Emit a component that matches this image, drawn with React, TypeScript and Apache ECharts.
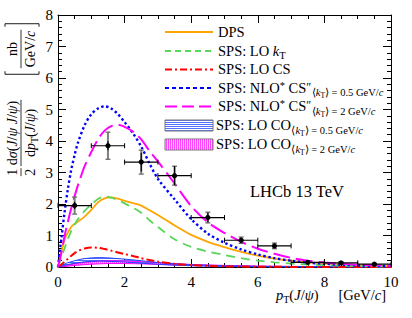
import React, { useEffect, useRef } from "react";
import * as echarts from "echarts";

// ---------- data ----------
const ptGrid = [0, 0.1, 0.2, 0.3, 0.4, 0.5, 0.6, 0.8, 1.0, 1.2, 1.4, 1.6, 1.8, 2.0, 2.25, 2.5, 2.75, 3.0, 3.5, 4.0, 4.5, 5.0, 5.5, 6.0, 6.5, 7.0, 7.5, 8.0, 9.0, 10.0];
const dpsXsec = [0, 0.45, 0.88, 1.1, 1.28, 1.37, 1.44, 1.6, 1.81, 2.05, 2.18, 2.21, 2.17, 2.1, 2.03, 1.95, 1.8, 1.65, 1.32, 1.02, 0.8, 0.63, 0.48, 0.36, 0.27, 0.2, 0.15, 0.11, 0.06, 0.03];
const loKtXsec = [0, 0.3, 0.6, 0.9, 1.15, 1.35, 1.52, 1.78, 1.98, 2.16, 2.24, 2.2, 2.12, 2.02, 1.88, 1.72, 1.48, 1.27, 0.88, 0.64, 0.49, 0.38, 0.28, 0.2, 0.15, 0.11, 0.08, 0.06, 0.03, 0.02];
const loCsXsec = [0, 0.08, 0.17, 0.26, 0.36, 0.44, 0.51, 0.59, 0.62, 0.61, 0.57, 0.52, 0.46, 0.41, 0.35, 0.28, 0.22, 0.17, 0.1, 0.06, 0.035, 0.02, 0.013, 0.008, 0.005, 0.003, 0.002, 0.001, 0, 0];
const nloCs05Xsec = [0, 0.9, 1.76, 2.5, 3.1, 3.56, 3.95, 4.5, 4.85, 5.03, 5.1, 5.03, 4.85, 4.6, 4.25, 3.82, 3.28, 2.8, 2.15, 1.52, 1.06, 0.77, 0.56, 0.4, 0.28, 0.2, 0.14, 0.1, 0.05, 0.03];
const nloCs2Xsec = [0, 0.45, 1.0, 1.45, 1.87, 2.25, 2.6, 3.2, 3.65, 4.05, 4.33, 4.47, 4.52, 4.45, 4.3, 4.05, 3.68, 3.35, 2.65, 1.93, 1.42, 1.08, 0.8, 0.58, 0.42, 0.29, 0.2, 0.14, 0.07, 0.04];

const coGrid = [0, 0.25, 0.5, 0.75, 1, 1.25, 1.5, 2, 2.5, 3, 3.5, 4, 5, 6, 8, 10];
const co05Upper = [0, 0.12, 0.2, 0.26, 0.29, 0.3, 0.29, 0.25, 0.2, 0.14, 0.1, 0.07, 0.04, 0.02, 0.01, 0];
const co05Lower = [0, 0.07, 0.12, 0.16, 0.18, 0.19, 0.18, 0.16, 0.12, 0.09, 0.06, 0.04, 0.02, 0.01, 0.005, 0];
const co2Upper = [0, 0.05, 0.1, 0.14, 0.17, 0.19, 0.2, 0.19, 0.17, 0.14, 0.11, 0.08, 0.05, 0.03, 0.01, 0];
const co2Lower = [0, 0.02, 0.05, 0.07, 0.09, 0.1, 0.11, 0.11, 0.1, 0.08, 0.06, 0.05, 0.03, 0.015, 0.005, 0];

const dataPt = [0.5, 1.5, 2.5, 3.5, 4.5, 5.5, 6.5, 7.5, 8.5, 9.5];
const dataXsec = [1.95, 3.85, 3.33, 2.9, 1.57, 0.85, 0.67, 0.15, 0.13, 0.09];
const dataBinHalf = [0.5, 0.5, 0.5, 0.5, 0.5, 0.5, 0.5, 0.5, 0.5, 0.5];
const dataErrTot = [0.27, 0.43, 0.38, 0.3, 0.17, 0.1, 0.09, 0.05, 0.04, 0.03];
const dataErrStat = [0.12, 0.14, 0.3, 0.3, 0.15, 0.08, 0.07, 0.04, 0.03, 0.03];

const xMin = 0, xMax = 10, xStep = 2;
const yMin = 0, yMax = 8, yStep = 1;

// ---------- text helpers ----------
const FONT = "Liberation Serif";
type Seg = { t: string; s?: number; i?: boolean; dy?: number; gap?: number };
let mctx: CanvasRenderingContext2D | null = null;
function measure(t: string, s: number, it: boolean) {
  if (!mctx) mctx = document.createElement("canvas").getContext("2d");
  mctx!.font = `${it ? "italic " : ""}${s}px "${FONT}"`;
  return mctx!.measureText(t).width;
}
function segW(segs: Seg[], base: number) {
  let w = 0;
  for (const g of segs) { w += g.gap || 0; w += measure(g.t, g.s || base, !!g.i); }
  return w;
}
function runs(segs: Seg[], x0: number, baseline: number, base: number) {
  const out: any[] = [];
  let x = x0;
  for (const g of segs) {
    x += g.gap || 0;
    const s = g.s || base;
    out.push({
      type: "text", x, y: baseline + (g.dy || 0) - 0.34 * s, silent: true,
      style: { text: g.t, fontSize: s, fontFamily: FONT, fontStyle: g.i ? "italic" : "normal", fill: "#000", align: "left", verticalAlign: "middle" },
    });
    x += measure(g.t, s, !!g.i);
  }
  return out;
}

// ---------- legend labels ----------
const LS = 14.5, SS = 10.5;
const subKt = (val: string): Seg[] => [
  { t: "⟨", s: SS, dy: 3.5, gap: 0.5 }, { t: "k", s: SS, i: true, dy: 3.5 }, { t: "T", s: 7.5, dy: 5.5 },
  { t: "⟩ = " + val + " GeV/", s: SS, dy: 3.5 }, { t: "c", s: SS, i: true, dy: 3.5 },
];
const legendLabels: Seg[][] = [
  [{ t: "DPS" }],
  [{ t: "SPS: LO " }, { t: "k", i: true }, { t: "T", s: SS, dy: 3 }],
  [{ t: "SPS: LO CS" }],
  [{ t: "SPS: NLO" }, { t: "*", s: SS, dy: -4 }, { t: " CS" }, { t: "″", s: 12, dy: -2 }, ...subKt("0.5")],
  [{ t: "SPS: NLO" }, { t: "*", s: SS, dy: -4 }, { t: " CS" }, { t: "″", s: 12, dy: -2 }, ...subKt("2")],
  [{ t: "SPS: LO CO" }, ...subKt("0.5")],
  [{ t: "SPS: LO CO" }, ...subKt("2")],
];

function makeHatch(kind: "h" | "v") {
  const c = document.createElement("canvas");
  const g = c.getContext("2d")!;
  if (kind === "h") {
    c.width = 4; c.height = 2;
    g.fillStyle = "#5470ff"; g.fillRect(0, 0, 4, 1);
  } else {
    c.width = 2; c.height = 4;
    g.fillStyle = "rgba(255,190,255,0.7)"; g.fillRect(0, 0, 2, 4);
    g.fillStyle = "#ff44ff"; g.fillRect(0, 0, 1, 4);
  }
  return { image: c, repeat: "repeat" };
}

export default function App() {
  const ref = useRef<HTMLDivElement>(null);
  useEffect(() => {
    const chart = echarts.init(ref.current!, null, { renderer: "svg" });
    const blueHatch = makeHatch("h");
    const pinkHatch = makeHatch("v");
    const pairs = (xs: number[], ys: number[]) => xs.map((x, i) => [x, ys[i]]);
    const curve = (name: string, ys: number[], color: string, width: number, dash: any, z: number) => ({
      type: "line", name, data: pairs(ptGrid, ys), smooth: 0.3, symbol: "none", silent: true, z,
      lineStyle: { color, width, type: dash },
    });
    const band = (name: string, lo: number[], hi: number[], color: string, fill: any) => [
      {
        type: "custom", name: name + "_fill", silent: true, z: 2,
        data: coGrid.map((x, i) => [x, lo[i], hi[i]]),
        renderItem: (p: any, api: any) => {
          if (p.dataIndex !== 0) return null;
          const n = coGrid.length;
          const up: number[][] = [], dn: number[][] = [];
          for (let i = 0; i < n; i++) {
            up.push(api.coord([api.value(0, i), api.value(2, i)]));
            dn.push(api.coord([api.value(0, i), api.value(1, i)]));
          }
          return { type: "polygon", shape: { points: up.concat(dn.reverse()) }, style: { fill, stroke: null } };
        },
      },
      { type: "line", name: name + "_lo", data: pairs(coGrid, lo), smooth: false, symbol: "none", silent: true, z: 2, lineStyle: { color, width: 1 } },
      { type: "line", name: name + "_hi", data: pairs(coGrid, hi), smooth: false, symbol: "none", silent: true, z: 2, lineStyle: { color, width: 1 } },
    ];

    const axisCommon = {
      type: "value", axisLine: { show: true, onZero: false, lineStyle: { color: "#000", width: 1 } },
      axisTick: { show: true, inside: true, length: 8, lineStyle: { color: "#000", width: 1 } },
      minorTick: { show: true, length: 4, lineStyle: { color: "#000", width: 1 } },
      splitLine: { show: false },
    };
    const labelStyle = { color: "#000", fontSize: 15, fontFamily: FONT, hideOverlap: false };

    // ----- graphics: legend, y title, x title, LHCb -----
    const g: any[] = [];
    const legY = [32, 51, 69.5, 88, 106.5, 125.5, 144.5];
    const legLines = [
      { color: "#ffa500", dash: [] as number[] },
      { color: "#5ad65a", dash: [6, 4] },
      { color: "#ff0000", dash: [7, 3, 2, 3] },
      { color: "#0000ff", dash: [4, 3] },
      { color: "#ff00ff", dash: [12, 5] },
    ];
    legLines.forEach((l, k) => {
      g.push({ type: "line", silent: true, shape: { x1: 165, y1: legY[k], x2: 213, y2: legY[k] }, style: { stroke: l.color, lineWidth: 2, lineDash: l.dash.length ? l.dash : null } });
    });
    g.push({ type: "rect", silent: true, shape: { x: 165, y: legY[5] - 5.5, width: 48, height: 11 }, style: { fill: blueHatch, stroke: "#777", lineWidth: 1 } });
    g.push({ type: "rect", silent: true, shape: { x: 165, y: legY[6] - 5.5, width: 48, height: 11 }, style: { fill: pinkHatch, stroke: "#777", lineWidth: 1 } });
    legendLabels.forEach((segs, k) => {
      g.push(...runs(segs, k >= 5 ? 216 : 218, legY[k] + 4.8, LS));
    });

    // LHCb label
    g.push(...runs([{ t: "LHCb 13 TeV" }], 250, 197, 16.5));

    // x-axis title
    const xt1: Seg[] = [{ t: "p", i: true }, { t: "T", s: 10, dy: 3 }, { t: "(" }, { t: "J", i: true }, { t: "/" }, { t: "ψ", i: true }, { t: ")" }];
    const xt2: Seg[] = [{ t: "[GeV/" }, { t: "c", i: true }, { t: "]" }];
    const XS = 14.5;
    const w2 = segW(xt2, XS);
    const w1 = segW(xt1, XS);
    g.push(...runs(xt2, 386 - w2, 300, XS));
    g.push(...runs(xt1, 386 - w2 - 20 - w1, 300, XS));

    // y-axis title (rotated)
    const YS = 14;
    const one: Seg[] = [{ t: "1" }], two: Seg[] = [{ t: "2" }];
    const num: Seg[] = [{ t: "d" }, { t: "σ", i: true }, { t: "(" }, { t: "J", i: true }, { t: "/" }, { t: "ψ", i: true }, { t: " " }, { t: "J", i: true }, { t: "/" }, { t: "ψ", i: true }, { t: ")" }];
    const den: Seg[] = [{ t: "d" }, { t: "p", i: true }, { t: "T", s: 10, dy: 3 }, { t: "(" }, { t: "J", i: true }, { t: "/" }, { t: "ψ", i: true }, { t: ")" }];
    const wa = Math.max(segW(one, YS), segW(two, YS)) + 1;
    const wb = Math.max(segW(num, YS), segW(den, YS)) + 2;
    const gapF = 2;
    const x0 = -(wa + gapF + wb) / 2;
    const xb = x0 + wa + gapF;
    const fracChildren = [
      ...runs(one, x0 + (wa - segW(one, YS)) / 2, -4, YS),
      ...runs(two, x0 + (wa - segW(two, YS)) / 2, 14, YS),
      { type: "line", shape: { x1: x0, y1: 0, x2: x0 + wa, y2: 0 }, style: { stroke: "#000", lineWidth: 0.8 } },
      ...runs(num, xb + (wb - segW(num, YS)) / 2, -4, YS),
      ...runs(den, xb + (wb - segW(den, YS)) / 2, 14, YS),
      { type: "line", shape: { x1: xb, y1: 0, x2: xb + wb, y2: 0 }, style: { stroke: "#000", lineWidth: 0.8 } },
    ];
    g.push({ type: "group", x: 21, y: 138, rotation: Math.PI / 2, silent: true, children: fracChildren });

    const unitNum: Seg[] = [{ t: "nb" }];
    const unitDen: Seg[] = [{ t: "GeV/" }, { t: "c", i: true }];
    const wu = Math.max(segW(unitNum, YS), segW(unitDen, YS)) + 2;
    const hb = wu / 2 + 6;
    const unitChildren = [
      ...runs(unitNum, -segW(unitNum, YS) / 2, -4, YS),
      ...runs(unitDen, -segW(unitDen, YS) / 2, 14, YS),
      { type: "line", shape: { x1: -wu / 2, y1: 0, x2: wu / 2, y2: 0 }, style: { stroke: "#000", lineWidth: 0.8 } },
      { type: "polyline", shape: { points: [[-hb + 3, -16], [-hb, -16], [-hb, 18], [-hb + 3, 18]] }, style: { stroke: "#000", lineWidth: 0.9, fill: null } },
      { type: "polyline", shape: { points: [[hb - 3, -16], [hb, -16], [hb, 18], [hb - 3, 18]] }, style: { stroke: "#000", lineWidth: 0.9, fill: null } },
    ];
    g.push({ type: "group", x: 21, y: 49, rotation: Math.PI / 2, silent: true, children: unitChildren });

    const option: any = {
      animation: false,
      backgroundColor: "#fff",
      textStyle: { fontFamily: FONT },
      grid: { left: 58, right: 21, top: 15, bottom: 51, outerBoundsMode: "none" },
      xAxis: [
        { ...axisCommon, min: xMin, max: xMax, interval: xStep, position: "bottom", minorTick: { ...axisCommon.minorTick, splitNumber: 4 }, axisLabel: { ...labelStyle, margin: 7 } },
        { ...axisCommon, min: xMin, max: xMax, interval: xStep, position: "top", minorTick: { ...axisCommon.minorTick, splitNumber: 4 }, axisLabel: { show: false } },
      ],
      yAxis: [
        { ...axisCommon, min: yMin, max: yMax, interval: yStep, position: "left", minorTick: { ...axisCommon.minorTick, splitNumber: 5 }, axisLabel: { ...labelStyle, margin: 5 } },
        { ...axisCommon, min: yMin, max: yMax, interval: yStep, position: "right", minorTick: { ...axisCommon.minorTick, splitNumber: 5 }, axisLabel: { show: false } },
      ],
      series: [
        ...band("co2", co2Lower, co2Upper, "#ff00ff", pinkHatch),
        ...band("co05", co05Lower, co05Upper, "#2040ff", blueHatch),
        curve("LO CS", loCsXsec, "#ff0000", 2, [8, 3, 2, 3], 3),
        curve("DPS", dpsXsec, "#ffa500", 1.8, "solid", 4),
        curve("LO kT", loKtXsec, "#5ad65a", 1.8, [9, 6], 4),
        curve("NLO CS 0.5", nloCs05Xsec, "#0000ff", 2.4, [2.4, 2.6], 5),
        curve("NLO CS 2", nloCs2Xsec, "#ff00ff", 2, [17, 6], 5),
        {
          type: "custom", name: "LHCb", z: 10, silent: true,
          data: dataPt.map((x, i) => [x, dataXsec[i], dataBinHalf[i], dataErrTot[i], dataErrStat[i]]),
          renderItem: (_p: any, api: any) => {
            const x = api.value(0), y = api.value(1), xe = api.value(2), et = api.value(3), es = api.value(4);
            const c = api.coord([x, y]);
            const l = api.coord([x - xe, y]), r = api.coord([x + xe, y]);
            const tt = api.coord([x, y + et]), tb = api.coord([x, y - et]);
            const st = api.coord([x, y + es]), sb = api.coord([x, y - es]);
            const cap = 2.5;
            const ln = (x1: number, y1: number, x2: number, y2: number, stroke: string, w: number) => ({ type: "line", shape: { x1, y1, x2, y2 }, style: { stroke, lineWidth: w } });
            return {
              type: "group",
              children: [
                ln(tt[0], tt[1], tb[0], tb[1], "#808080", 2),
                ln(c[0] - cap, tt[1], c[0] + cap, tt[1], "#606060", 1.2),
                ln(c[0] - cap, tb[1], c[0] + cap, tb[1], "#606060", 1.2),
                ln(st[0], st[1], sb[0], sb[1], "#000", 1.2),
                ln(l[0], c[1], r[0], c[1], "#000", 1.2),
                ln(l[0], c[1] - cap, l[0], c[1] + cap, "#000", 1),
                ln(r[0], c[1] - cap, r[0], c[1] + cap, "#000", 1),
                { type: "circle", shape: { cx: c[0], cy: c[1], r: 2.6 }, style: { fill: "#000" } },
              ],
            };
          },
        },
      ],
      graphic: g,
    };
    chart.setOption(option);
    return () => chart.dispose();
  }, []);
  return <div ref={ref} style={{ position: "fixed", left: 0, top: 0, width: 412, height: 318, background: "#fff" }} />;
}
